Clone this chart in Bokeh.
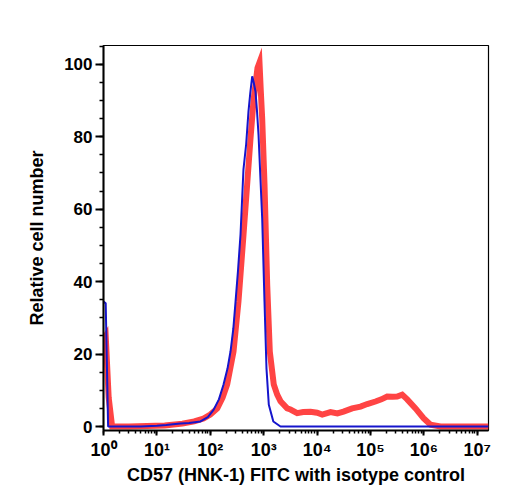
from bokeh.plotting import figure
from bokeh.embed import file_html
from bokeh.resources import INLINE
from bokeh.models import (Range1d, SingleIntervalTicker, LogTicker,
                          CustomJSTickFormatter)

# ---- data ----
blue_x = [1.0, 1.1, 1.22, 2, 5, 10, 15, 20, 27.7, 40, 65.5, 90, 115, 145, 177,
          210, 239, 270, 297, 330, 368, 418, 470, 519, 560, 609, 650, 702,
          750, 800, 937, 1035, 1128, 1247, 1515, 2064, 5000, 1e5, 1e6, 1.62e7]
blue_y = [34.5, 34, 0, 0, 0, 0.2, 0.4, 0.6, 0.8, 1.0, 1.4, 2.6, 4.6, 7.5, 11.6,
          16, 20.7, 27, 34.5, 43, 53, 71, 78, 87, 92, 96.7, 95, 92.5,
          87, 80.6, 57.5, 34.5, 16, 6, 1.4, 0, 0, 0, 0, 0]

red_x = [1.0, 1.1, 1.25, 1.45, 3, 14, 30, 50, 74.6, 100, 135, 170, 207, 272,
         337, 419, 491, 566, 645, 765, 834, 880, 937, 1035, 1164, 1301, 1545,
         1790, 2064, 2754, 3177, 4240, 5500, 7520, 10000, 12470, 17830, 24000,
         31200, 45400, 65000, 86700, 124000, 160000, 205000, 260000, 316000,
         392000, 487000, 697000, 984000, 1.33e6, 2.05e6, 5e6, 1.62e7]
red_y = [24, 25, 8, 0, 0, 0.3, 0.8, 1.4, 2.2, 3.3, 5, 8, 11.6, 20.7,
         34.5, 53, 67, 79.5, 90, 99, 100.5, 93, 85, 67, 39, 20.7, 11.6,
         8.8, 7, 5, 4.7, 3.7, 4, 4.1, 3.8, 3.3, 4, 3.6,
         4.1, 5, 5.5, 6.2, 6.9, 7.5, 8.3, 8.2, 8.3,
         8.8, 7.5, 5, 2.3, 0.5, 0, 0, 0]

# superscript digits used for the decade labels 10^0 ... 10^7
superscripts = ["\u2070", "\u00b9", "\u00b2", "\u00b3", "\u2074",
                "\u2075", "\u2076", "\u2077", "\u2078", "\u2079"]

x_label = "CD57 (HNK-1) FITC with isotype control"
y_label = "Relative cell number"

FONT = "Liberation Sans"
Y_MIN, Y_MAX = -1.1, 105.2

p = figure(width=508, height=500, output_backend="svg", toolbar_location=None,
           x_axis_type="log",
           x_range=Range1d(1, 10 ** 7.21), y_range=Range1d(Y_MIN, Y_MAX),
           min_border_left=103, min_border_right=20,
           min_border_top=45, min_border_bottom=70)

p.line(red_x, red_y, line_color="#ff3030", line_alpha=0.9, line_width=6,
       line_join="miter")
p.line(blue_x, blue_y, line_color="#1515cc", line_width=2)

p.xgrid.visible = False
p.ygrid.visible = False
p.outline_line_color = "black"
p.outline_line_width = 1.2
p.outline_line_alpha = 1

# y axis
p.yaxis.ticker = SingleIntervalTicker(interval=20, num_minor_ticks=4)
p.yaxis.axis_label = y_label
# x axis: decades written as 10 with a superscript exponent
p.xaxis.ticker = LogTicker(num_minor_ticks=10)
p.xaxis.formatter = CustomJSTickFormatter(args=dict(sup=superscripts), code="""
const e = Math.round(Math.log10(tick));
let s = '';
for (const d of String(Math.abs(e))) { s += sup[+d]; }
return '10' + (e < 0 ? '\\u207b' : '') + s;
""")
p.xaxis.axis_label = x_label

for ax in (p.xaxis, p.yaxis):
    ax.axis_line_width = 2
    ax.axis_line_color = "black"
    ax.major_tick_line_width = 2
    ax.minor_tick_line_width = 1.5
    ax.major_tick_in = 0
    ax.minor_tick_in = 0
    ax.major_label_text_font = FONT
    ax.major_label_text_font_style = "bold"
    ax.major_label_text_color = "black"
    ax.axis_label_text_font = FONT
    ax.axis_label_text_font_style = "bold"
    ax.axis_label_text_font_size = "18px"
    ax.axis_label_text_color = "black"

p.yaxis.major_label_text_font_size = "17px"
p.xaxis.major_label_text_font_size = "18px"
p.yaxis.major_tick_out = 8
p.yaxis.minor_tick_out = 4
p.xaxis.major_tick_out = 5
p.xaxis.minor_tick_out = 3
p.yaxis.major_label_standoff = 3
p.yaxis.axis_label_standoff = 14
p.xaxis.major_label_standoff = 4
p.xaxis.axis_label_standoff = 2

with open("out.html", "w", encoding="utf-8") as f:
    f.write(file_html(p, INLINE))
